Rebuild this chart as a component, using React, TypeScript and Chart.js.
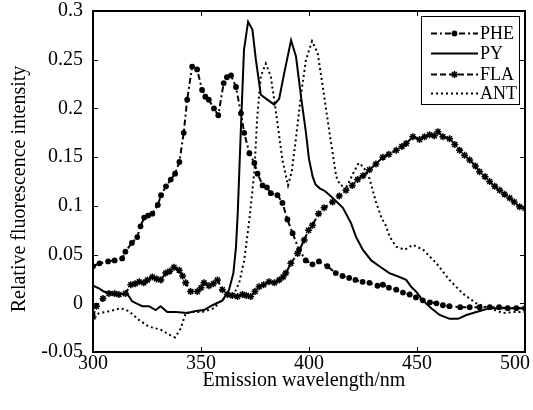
import React, { useEffect, useRef } from 'react';
import { Chart, registerables } from 'chart.js';

Chart.register(...registerables);

// ---------- data ----------
const X_TICKS = [300, 350, 400, 450, 500];
const Y_TICKS = [-0.05, 0, 0.05, 0.1, 0.15, 0.2, 0.25, 0.3];
const X_TITLE = 'Emission wavelength/nm';
const Y_TITLE = 'Relative fluorescence intensity';
const SERIES_NAMES = ['PHE', 'PY', 'FLA', 'ANT'];

const PHE_X = [300, 303, 307, 310, 313.5, 315, 318, 320.5, 322, 323.7, 325.5, 327.5, 330, 331.5, 333.8, 336, 338, 340, 342, 343.6, 345.9, 348.2, 350.5, 352, 353.6, 356, 358, 360.5, 362, 363.9, 366.2, 368.5, 370, 372.4, 374.7, 376.2, 378.5, 380.5, 382.3, 385.4, 387.7, 390, 392.4, 395.4, 398.5, 401.6, 404.6, 408.5, 412.4, 415.5, 418.6, 421.5, 424.8, 428, 431.7, 434.2, 437, 440.4, 443.5, 446.6, 449.5, 452.7, 456, 459, 462, 465, 470, 474.4, 479, 483.7, 488, 492, 496, 500];
const PHE_Y = [0.038, 0.041, 0.043, 0.044, 0.046, 0.053, 0.062, 0.068, 0.079, 0.088, 0.09, 0.092, 0.101, 0.111, 0.12, 0.127, 0.133, 0.145, 0.175, 0.209, 0.243, 0.24, 0.219, 0.212, 0.209, 0.2, 0.193, 0.226, 0.232, 0.234, 0.222, 0.195, 0.175, 0.154, 0.144, 0.133, 0.121, 0.119, 0.113, 0.111, 0.103, 0.086, 0.072, 0.055, 0.044, 0.04, 0.043, 0.038, 0.031, 0.028, 0.026, 0.024, 0.022, 0.021, 0.018, 0.019, 0.016, 0.014, 0.011, 0.009, 0.006, 0.003, 0.001, 0, -0.002, -0.003, -0.004, -0.004, -0.004, -0.004, -0.004, -0.005, -0.005, -0.005];

const PY_X = [300, 303, 305, 310.4, 315.8, 318.1, 322.8, 325.9, 329, 331.3, 334.4, 338.3, 343.7, 347.6, 351.4, 355.3, 360, 363, 365, 366.2, 367, 368.4, 369.9, 371.8, 373.8, 375.4, 377.7, 380.7, 383.9, 386.2, 388.5, 391.7, 394, 396.3, 398.6, 400, 401.7, 403, 405, 407.5, 411, 415.7, 419.5, 421.8, 424.9, 428.8, 432.6, 437.2, 441.9, 445, 447.3, 449.6, 452.7, 456.6, 460.5, 465.1, 469, 472.9, 477.5, 483.7, 490, 500];
const PY_Y = [0.018, 0.015, 0.012, 0.009, 0.01, 0.002, -0.003, -0.003, -0.007, -0.003, -0.009, -0.009, -0.01, -0.008, -0.007, -0.002, 0.003, 0.014, 0.031, 0.058, 0.092, 0.175, 0.26, 0.289, 0.281, 0.25, 0.214, 0.209, 0.204, 0.21, 0.236, 0.27, 0.253, 0.212, 0.175, 0.148, 0.13, 0.122, 0.118, 0.115, 0.108, 0.098, 0.082, 0.068, 0.055, 0.044, 0.038, 0.031, 0.027, 0.024, 0.017, 0.012, 0.003, -0.005, -0.012, -0.016, -0.016, -0.012, -0.009, -0.005, -0.005, -0.005];

const FLA_X = [300, 301.6, 304.6, 307.4, 310, 312, 315, 317.5, 319.5, 321.4, 323.5, 325.2, 327.5, 329.5, 331.4, 333.7, 335.5, 337.5, 339.9, 341.5, 342.9, 345.2, 348.3, 350, 351.4, 353.7, 355.7, 357.6, 359.9, 362.2, 364.5, 366.9, 369.2, 371, 373, 375, 376.9, 379, 381.5, 384, 386.2, 388, 389.3, 391.6, 394.7, 397.8, 399.8, 401.6, 404.4, 407, 410.9, 414, 417.1, 420, 422.5, 425, 428, 431, 434.2, 437, 440.4, 443, 445, 448.1, 451.2, 453.5, 455.8, 458, 459.7, 462, 465.1, 467.5, 469.7, 472, 474.4, 477, 479, 481.5, 483.6, 486, 488.3, 490.5, 492.9, 495, 497.5, 500];
const FLA_Y = [-0.014, -0.003, 0.005, 0.01, 0.01, 0.009, 0.01, 0.019, 0.02, 0.022, 0.021, 0.024, 0.027, 0.025, 0.024, 0.031, 0.033, 0.037, 0.034, 0.028, 0.021, 0.012, 0.012, 0.016, 0.021, 0.018, 0.02, 0.024, 0.014, 0.009, 0.008, 0.007, 0.009, 0.008, 0.007, 0.012, 0.017, 0.019, 0.022, 0.021, 0.024, 0.027, 0.031, 0.041, 0.051, 0.065, 0.075, 0.08, 0.092, 0.098, 0.104, 0.11, 0.116, 0.121, 0.127, 0.131, 0.137, 0.143, 0.15, 0.153, 0.157, 0.161, 0.164, 0.171, 0.168, 0.171, 0.173, 0.172, 0.176, 0.171, 0.169, 0.163, 0.157, 0.152, 0.147, 0.141, 0.135, 0.13, 0.125, 0.12, 0.116, 0.112, 0.108, 0.104, 0.099, 0.0975];

const ANT_X = [300, 303, 308, 312.7, 316.6, 321.2, 325.9, 331.3, 336, 338, 340.6, 342.9, 346, 350.6, 356, 359, 361.3, 365.4, 367.7, 370, 372.4, 374.7, 376, 377.7, 380, 382.3, 384.6, 387.7, 390.3, 392, 394, 396.3, 398.6, 401.4, 404, 406.4, 409.5, 412.6, 414.5, 417.5, 420.6, 423, 425.2, 428, 431, 433.5, 435.5, 437.4, 440.4, 444.3, 448.1, 452.8, 459, 465, 471.2, 477.4, 483.6, 489.8, 495, 500];
const ANT_Y = [-0.013, -0.01, -0.008, -0.005, -0.008, -0.017, -0.024, -0.027, -0.033, -0.035, -0.026, -0.01, -0.009, -0.009, -0.005, 0.002, 0.006, 0.01, 0.021, 0.044, 0.086, 0.135, 0.19, 0.233, 0.246, 0.233, 0.198, 0.147, 0.121, 0.135, 0.17, 0.214, 0.25, 0.269, 0.257, 0.222, 0.175, 0.13, 0.121, 0.12, 0.134, 0.144, 0.14, 0.128, 0.104, 0.088, 0.08, 0.068, 0.058, 0.055, 0.06, 0.055, 0.041, 0.024, 0.01, 0, -0.005, -0.01, -0.009, -0.009];

const FONT = '"Liberation Serif", "Times New Roman", serif';

function pts(xs: number[], ys: number[]) {
  return xs.map((x, i) => ({ x, y: ys[i] }));
}

function drawMarker(ctx: CanvasRenderingContext2D, style: string, x: number, y: number, r: number) {
  ctx.beginPath();
  if (style === 'circle') {
    ctx.arc(x, y, r, 0, Math.PI * 2);
    ctx.fill();
  } else if (style === 'star') {
    ctx.moveTo(x - r, y); ctx.lineTo(x + r, y);
    ctx.moveTo(x, y - r); ctx.lineTo(x, y + r);
    const d = r * 0.707;
    ctx.moveTo(x - d, y - d); ctx.lineTo(x + d, y + d);
    ctx.moveTo(x - d, y + d); ctx.lineTo(x + d, y - d);
    ctx.stroke();
  }
}

const framePlugin = {
  id: 'frameAndLegend',
  afterDraw(chart: any) {
    const { ctx, chartArea, scales } = chart;
    const { left, right, top, bottom } = chartArea;
    const xs = scales.x;
    const ys = scales.y;
    ctx.save();
    ctx.strokeStyle = '#000';
    ctx.fillStyle = '#000';
    ctx.lineWidth = 1;
    ctx.setLineDash([]);
    ctx.beginPath();
    xs.ticks.forEach((t: any) => {
      const px = Math.round(xs.getPixelForValue(t.value)) + 0.5;
      ctx.moveTo(px, bottom); ctx.lineTo(px, bottom - 5);
      ctx.moveTo(px, top); ctx.lineTo(px, top + 5);
    });
    ys.ticks.forEach((t: any) => {
      const py = Math.round(ys.getPixelForValue(t.value)) + 0.5;
      ctx.moveTo(left, py); ctx.lineTo(left + 5, py);
      ctx.moveTo(right, py); ctx.lineTo(right - 5, py);
    });
    ctx.stroke();
    ctx.lineWidth = 2;
    ctx.strokeRect(left, top, right - left, bottom - top);

    // legend box
    const bx = 421, by = 16, bw = 98, bh = 88;
    ctx.fillStyle = '#fff';
    ctx.fillRect(bx, by, bw, bh);
    ctx.lineWidth = 1;
    ctx.strokeStyle = '#000';
    ctx.strokeRect(bx + 0.5, by + 0.5, bw, bh);
    const rows = [33, 53, 74, 93];
    chart.data.datasets.forEach((ds: any, i: number) => {
      const y = rows[i] + 0.5;
      ctx.strokeStyle = '#000';
      ctx.fillStyle = '#000';
      ctx.lineWidth = ds.borderWidth;
      ctx.setLineDash(ds.borderDash || []);
      ctx.beginPath();
      ctx.moveTo(431, y);
      ctx.lineTo(478, y);
      ctx.stroke();
      ctx.setLineDash([]);
      if (ds.pointRadius > 0) {
        ctx.lineWidth = ds.pointBorderWidth || 1;
        drawMarker(ctx, ds.pointStyle, 454.5, y, ds.pointRadius);
      }
      ctx.fillStyle = '#000';
      ctx.font = '18px ' + FONT;
      ctx.textAlign = 'left';
      ctx.textBaseline = 'middle';
      ctx.fillText(ds.label, 480, rows[i] + 1);
    });
    ctx.restore();
  },
};

export default function App() {
  const ref = useRef<HTMLCanvasElement | null>(null);

  useEffect(() => {
    if (!ref.current) return;
    const chart = new Chart(ref.current, {
      type: 'line',
      data: {
        datasets: [
          {
            label: SERIES_NAMES[0],
            data: pts(PHE_X, PHE_Y),
            borderColor: '#000',
            backgroundColor: '#000',
            borderWidth: 2,
            borderDash: [6, 3, 2, 3],
            pointStyle: 'circle',
            pointRadius: 2.9,
            pointBorderWidth: 0,
            pointBackgroundColor: '#000',
            fill: false,
          },
          {
            label: SERIES_NAMES[1],
            data: pts(PY_X, PY_Y),
            borderColor: '#000',
            backgroundColor: '#000',
            borderWidth: 2,
            pointRadius: 0,
            fill: false,
          },
          {
            label: SERIES_NAMES[2],
            data: pts(FLA_X, FLA_Y),
            borderColor: '#000',
            backgroundColor: '#000',
            borderWidth: 2,
            borderDash: [6, 3],
            pointStyle: 'star',
            pointRadius: 3.5,
            pointBorderWidth: 1.5,
            pointBorderColor: '#000',
            fill: false,
          },
          {
            label: SERIES_NAMES[3],
            data: pts(ANT_X, ANT_Y),
            borderColor: '#000',
            backgroundColor: '#000',
            borderWidth: 2,
            borderDash: [2, 3],
            pointRadius: 0,
            fill: false,
          },
        ],
      },
      options: {
        animation: false,
        responsive: true,
        maintainAspectRatio: false,
        layout: { padding: { top: 11, right: 8, left: 0, bottom: 0 } },
        plugins: { legend: { display: false }, tooltip: { enabled: false } },
        elements: { line: { tension: 0 } },
        scales: {
          x: {
            type: 'linear',
            min: 300,
            max: 500,
            afterBuildTicks: (s: any) => { s.ticks = X_TICKS.map((v) => ({ value: v })); },
            afterFit: (s: any) => { s.height = 58; s.paddingLeft = 0; s.paddingRight = 0; },
            grid: { display: false, drawTicks: false },
            border: { display: false },
            ticks: {
              color: '#000',
              font: { family: FONT, size: 20 },
              padding: 0,
              maxRotation: 0,
              autoSkip: false,
              callback: (v: any) => (v === 500 ? String(v) + '    ' : String(v)),
            },
            title: {
              display: true,
              text: X_TITLE + '  ',
              color: '#000',
              font: { family: FONT, size: 20 },
              padding: { top: 0, bottom: 17 },
            },
          },
          y: {
            type: 'linear',
            min: -0.05,
            max: 0.3,
            afterBuildTicks: (s: any) => { s.ticks = Y_TICKS.map((v) => ({ value: v })); },
            afterFit: (s: any) => { s.width = 93; s.paddingTop = 0; s.paddingBottom = 0; },
            grid: { display: false, drawTicks: false },
            border: { display: false },
            ticks: {
              color: '#000',
              font: { family: FONT, size: 20 },
              padding: 10,
              autoSkip: false,
              callback: (v: any) => (Math.abs(v) < 1e-9 ? '0' : String(parseFloat(Number(v).toFixed(2)))),
            },
            title: {
              display: true,
              text: Y_TITLE + '   ',
              color: '#000',
              font: { family: FONT, size: 20 },
              padding: { top: 8, bottom: 0 },
            },
          },
        },
      },
      plugins: [framePlugin],
    } as any);
    return () => chart.destroy();
  }, []);

  return (
    <div style={{ position: 'fixed', left: 0, top: 0, width: 533, height: 410, background: '#fff' }}>
      <canvas ref={ref} />
    </div>
  );
}
